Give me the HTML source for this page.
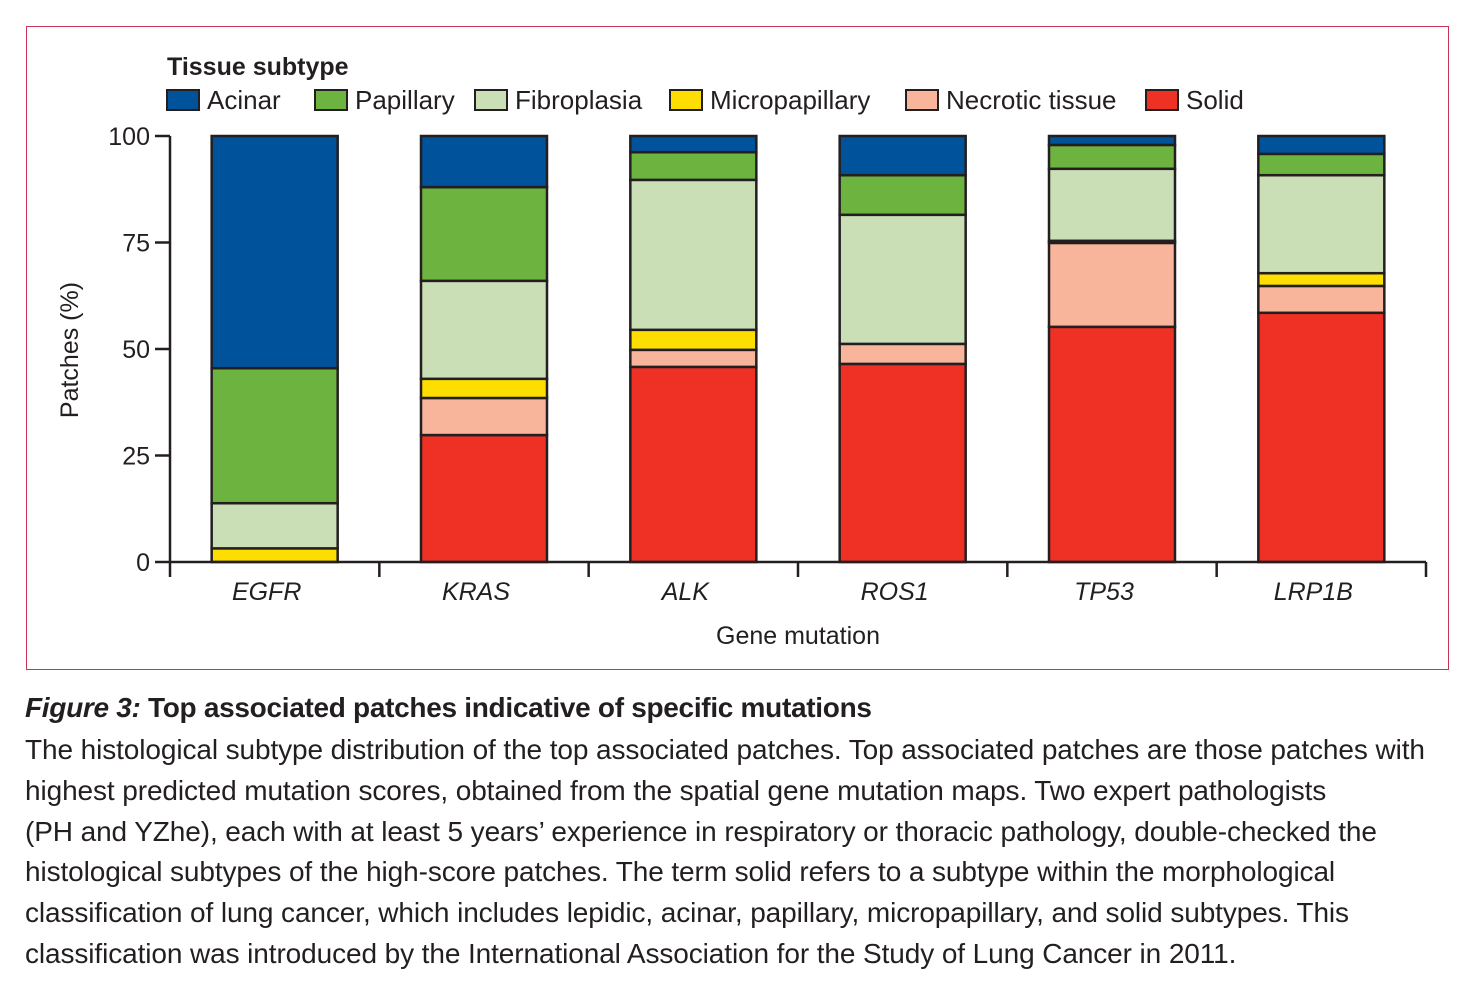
<!DOCTYPE html>
<html><head><meta charset="utf-8"><style>
body{margin:0;background:#fff;width:1482px;height:1000px;overflow:hidden;font-family:"Liberation Sans",sans-serif}
#frame{position:absolute;left:26px;top:26px;width:1423px;height:644px;border:1.5px solid #c8335a;box-sizing:border-box}
#cap{position:absolute;left:25px;top:692px;width:1460px;color:#231f20}
#cap h1{font-size:28px;font-weight:bold;margin:0 0 6px 0;letter-spacing:-0.3px;white-space:nowrap}
#cap p{font-size:28px;line-height:40.8px;margin:0;letter-spacing:-0.1px;white-space:nowrap}
</style></head><body>
<div id="frame"></div>
<svg id="chart" width="1482" height="690" style="position:absolute;left:0;top:0"></svg>
<div id="cap">
<h1><i>Figure 3:</i> Top associated patches indicative of specific mutations</h1>
<p>The histological subtype distribution of the top associated patches. Top associated patches are those patches with<br>highest predicted mutation scores, obtained from the spatial gene mutation maps. Two expert pathologists<br>(PH and YZhe), each with at least 5 years’ experience in respiratory or thoracic pathology, double-checked the<br>histological subtypes of the high-score patches. The term solid refers to a subtype within the morphological<br>classification of lung cancer, which includes lepidic, acinar, papillary, micropapillary, and solid subtypes. This<br>classification was introduced by the International Association for the Study of Lung Cancer in 2011.</p>
</div>
<script>
const genes=["EGFR","KRAS","ALK","ROS1","TP53","LRP1B"];
const subtypes=["Solid","Necrotic tissue","Micropapillary","Fibroplasia","Papillary","Acinar"];
const solid=[0,29.8,45.8,46.5,55.2,58.5];
const necrotic=[0,8.7,4.0,4.7,19.7,6.3];
const micropapillary=[3.2,4.5,4.7,0,0.5,3.0];
const fibroplasia=[10.6,23,35.2,30.3,16.9,23];
const papillary=[31.7,22,6.5,9.3,5.6,5];
const acinar=[54.5,12,3.8,9.2,2.1,4.2];
const yTicks=[0,25,50,75,100];
const colors=["#ee3124","#f9b59b","#fedd00","#cadfb5","#6db33f","#00529b"];
const legendOrder=["Acinar","Papillary","Fibroplasia","Micropapillary","Necrotic tissue","Solid"];
const series=[solid,necrotic,micropapillary,fibroplasia,papillary,acinar];

const svg=document.getElementById('chart');
const NS="http://www.w3.org/2000/svg";
const x0=170,x1=1426,y0=562,y1=136;
const band=(x1-x0)/genes.length, bw=126;
const Y=v=>y0-(v/100)*(y0-y1);
const X=i=>x0+band*(i+0.5);
function mk(t,a){const e=document.createElementNS(NS,t);for(const k in a)e.setAttribute(k,a[k]);svg.appendChild(e);return e;}
const ink="#231f20";
genes.forEach((g,i)=>{
  let acc=0;
  series.forEach((s,j)=>{
    const v=s[i]; if(v<=0){return;}
    const r=mk('rect',{x:X(i)-bw/2,y:Y(acc+v),width:bw,height:Y(acc)-Y(acc+v),fill:colors[j],stroke:ink,'stroke-width':2.5});
    
    
    acc+=v;
  });
  const t=mk('text',{x:X(i)-8,y:600,'text-anchor':'middle','font-size':25,'font-style':'italic',fill:ink});
  t.textContent=g;
  
  
});
const ax=mk('path',{d:`M${x0} ${y1}V${577}M${x0} ${y0}H${x1}`,stroke:ink,'stroke-width':2.5,fill:'none'});


for(let i=1;i<=genes.length;i++){
  const tk=mk('line',{x1:x0+band*i,x2:x0+band*i,y1:y0,y2:577,stroke:ink,'stroke-width':2.5});
  
  
}
yTicks.forEach(v=>{
  const l=mk('line',{x1:155,x2:x0,y1:Y(v),y2:Y(v),stroke:ink,'stroke-width':2.5});
  
  
  const t=mk('text',{x:150,y:Y(v)+9,'text-anchor':'end','font-size':25,fill:ink});
  t.textContent=v;
  
  
});
const yt=mk('text',{x:78,y:350,'text-anchor':'middle','font-size':25,fill:ink,transform:'rotate(-90 78 350)'});
yt.textContent="Patches (%)";


const xt=mk('text',{x:798,y:644,'text-anchor':'middle','font-size':25,fill:ink});
xt.textContent="Gene mutation";


const lt=mk('text',{x:167,y:75,'font-size':25,'font-weight':'bold',fill:ink});
lt.textContent="Tissue subtype";


const lx=[167,315,475,670,906,1146];
legendOrder.forEach((n,k)=>{
  const j=subtypes.indexOf(n);
  const r=mk('rect',{x:lx[k],y:90,width:32,height:20,fill:colors[j],stroke:ink,'stroke-width':2});
  
  
  const t=mk('text',{x:lx[k]+40,y:109,'font-size':26,fill:ink});
  t.textContent=n;
  
  
});
</script>
</body></html>
